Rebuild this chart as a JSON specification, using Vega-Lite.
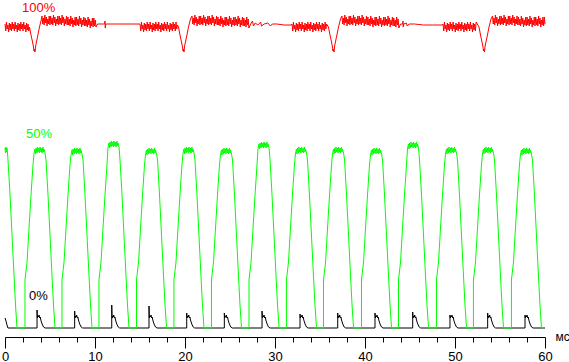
{
"$schema":"https://vega.github.io/schema/vega-lite/v6.json",
"width":540,"height":337,
"autosize":{"type":"none"},
"padding":{"left":5,"top":0,"right":24,"bottom":25},
"background":"#ffffff",
"config":{"view":{"stroke":null}},
"datasets":{
"k":[{"x":0,"y":19},{"x":0.11,"y":16},{"x":0.22,"y":12},{"x":0.33,"y":9},
{"x":3.56,"y":9},{"x":3.56,"y":27},{"x":3.6,"y":19},{"x":3.67,"y":21},{"x":3.74,"y":20},{"x":3.78,"y":22},{"x":3.85,"y":19},{"x":3.92,"y":20},{"x":3.98,"y":17},{"x":4.12,"y":13},{"x":4.28,"y":10},{"x":4.45,"y":9},
{"x":7.74,"y":9},{"x":7.74,"y":26},{"x":7.78,"y":19},{"x":7.85,"y":21},{"x":7.92,"y":20},{"x":7.96,"y":22},{"x":8.03,"y":19},{"x":8.1,"y":20},{"x":8.16,"y":17},{"x":8.3,"y":13},{"x":8.46,"y":10},{"x":8.63,"y":9},
{"x":11.86,"y":9},{"x":11.86,"y":32},{"x":11.9,"y":19},{"x":11.97,"y":21},{"x":12.04,"y":20},{"x":12.08,"y":22},{"x":12.15,"y":19},{"x":12.22,"y":20},{"x":12.28,"y":17},{"x":12.42,"y":13},{"x":12.58,"y":10},{"x":12.75,"y":9},
{"x":16.0,"y":9},{"x":16.0,"y":31},{"x":16.04,"y":19},{"x":16.11,"y":21},{"x":16.18,"y":20},{"x":16.22,"y":22},{"x":16.29,"y":19},{"x":16.36,"y":20},{"x":16.42,"y":17},{"x":16.56,"y":13},{"x":16.72,"y":10},{"x":16.89,"y":9},
{"x":20.19,"y":9},{"x":20.19,"y":24},{"x":20.23,"y":19},{"x":20.3,"y":21},{"x":20.37,"y":20},{"x":20.41,"y":22},{"x":20.48,"y":19},{"x":20.55,"y":20},{"x":20.61,"y":17},{"x":20.75,"y":13},{"x":20.91,"y":10},{"x":21.08,"y":9},
{"x":24.37,"y":9},{"x":24.37,"y":24},{"x":24.41,"y":19},{"x":24.48,"y":21},{"x":24.55,"y":20},{"x":24.59,"y":22},{"x":24.66,"y":19},{"x":24.73,"y":20},{"x":24.79,"y":17},{"x":24.93,"y":13},{"x":25.09,"y":10},{"x":25.26,"y":9},
{"x":28.56,"y":9},{"x":28.56,"y":26},{"x":28.6,"y":19},{"x":28.67,"y":21},{"x":28.74,"y":20},{"x":28.78,"y":22},{"x":28.85,"y":19},{"x":28.92,"y":20},{"x":28.98,"y":17},{"x":29.12,"y":13},{"x":29.28,"y":10},{"x":29.45,"y":9},
{"x":32.78,"y":9},{"x":32.78,"y":23},{"x":32.82,"y":19},{"x":32.89,"y":21},{"x":32.96,"y":20},{"x":33.0,"y":22},{"x":33.07,"y":19},{"x":33.14,"y":20},{"x":33.2,"y":17},{"x":33.34,"y":13},{"x":33.5,"y":10},{"x":33.67,"y":9},
{"x":36.97,"y":9},{"x":36.97,"y":24},{"x":37.01,"y":19},{"x":37.08,"y":21},{"x":37.15,"y":20},{"x":37.19,"y":22},{"x":37.26,"y":19},{"x":37.33,"y":20},{"x":37.39,"y":17},{"x":37.53,"y":13},{"x":37.69,"y":10},{"x":37.86,"y":9},
{"x":41.11,"y":9},{"x":41.11,"y":24},{"x":41.15,"y":19},{"x":41.22,"y":21},{"x":41.29,"y":20},{"x":41.33,"y":22},{"x":41.4,"y":19},{"x":41.47,"y":20},{"x":41.53,"y":17},{"x":41.67,"y":13},{"x":41.83,"y":10},{"x":42.0,"y":9},
{"x":45.3,"y":9},{"x":45.3,"y":25},{"x":45.34,"y":19},{"x":45.41,"y":21},{"x":45.48,"y":20},{"x":45.52,"y":22},{"x":45.59,"y":19},{"x":45.66,"y":20},{"x":45.72,"y":17},{"x":45.86,"y":13},{"x":46.02,"y":10},{"x":46.19,"y":9},
{"x":49.44,"y":9},{"x":49.44,"y":22},{"x":49.48,"y":19},{"x":49.55,"y":21},{"x":49.62,"y":20},{"x":49.66,"y":22},{"x":49.73,"y":19},{"x":49.8,"y":20},{"x":49.86,"y":17},{"x":50.0,"y":13},{"x":50.16,"y":10},{"x":50.33,"y":9},
{"x":53.63,"y":9},{"x":53.63,"y":24},{"x":53.67,"y":19},{"x":53.74,"y":21},{"x":53.81,"y":20},{"x":53.85,"y":22},{"x":53.92,"y":19},{"x":53.99,"y":20},{"x":54.05,"y":17},{"x":54.19,"y":13},{"x":54.35,"y":10},{"x":54.52,"y":9},
{"x":57.78,"y":9},{"x":57.78,"y":22},{"x":57.82,"y":19},{"x":57.89,"y":21},{"x":57.96,"y":20},{"x":58.0,"y":22},{"x":58.07,"y":19},{"x":58.14,"y":20},{"x":58.2,"y":17},{"x":58.34,"y":13},{"x":58.5,"y":10},{"x":58.67,"y":9},
{"x":60,"y":9}],
"g":[{"x":0,"y":189},{"x":0.06,"y":184},{"x":0.11,"y":190},{"x":0.17,"y":185},{"x":0.22,"y":189},{"x":0.28,"y":184},{"x":0.33,"y":177},{"x":0.56,"y":142},{"x":0.78,"y":102},{"x":1.0,"y":62},{"x":1.17,"y":32},{"x":1.33,"y":9},
{"x":2.22,"y":9},{"x":2.22,"y":57},{"x":2.45,"y":75},{"x":2.67,"y":109},{"x":2.89,"y":142},{"x":3.11,"y":172},{"x":3.22,"y":183},
{"x":3.33,"y":188},{"x":3.39,"y":183},{"x":3.45,"y":189},{"x":3.56,"y":184},{"x":3.61,"y":190},{"x":3.67,"y":185},{"x":3.78,"y":189},{"x":3.83,"y":184},{"x":3.89,"y":190},{"x":4.0,"y":185},{"x":4.06,"y":189},{"x":4.11,"y":184},{"x":4.22,"y":190},{"x":4.28,"y":185},{"x":4.33,"y":188},{"x":4.45,"y":184},
{"x":4.56,"y":177},{"x":4.78,"y":142},{"x":5.0,"y":102},{"x":5.22,"y":62},{"x":5.39,"y":32},{"x":5.56,"y":9},
{"x":6.33,"y":9},{"x":6.33,"y":57},{"x":6.56,"y":75},{"x":6.78,"y":109},{"x":7.0,"y":142},{"x":7.22,"y":172},{"x":7.33,"y":182},
{"x":7.44,"y":187},{"x":7.5,"y":182},{"x":7.56,"y":188},{"x":7.67,"y":183},{"x":7.72,"y":189},{"x":7.78,"y":184},{"x":7.89,"y":188},{"x":7.94,"y":183},{"x":8.0,"y":189},{"x":8.11,"y":184},{"x":8.17,"y":188},{"x":8.22,"y":183},{"x":8.33,"y":189},{"x":8.39,"y":184},{"x":8.44,"y":187},{"x":8.56,"y":183},
{"x":8.67,"y":177},{"x":8.89,"y":142},{"x":9.11,"y":102},{"x":9.33,"y":62},{"x":9.5,"y":32},{"x":9.67,"y":9},
{"x":10.44,"y":9},{"x":10.44,"y":57},{"x":10.67,"y":75},{"x":10.89,"y":109},{"x":11.11,"y":142},{"x":11.33,"y":172},{"x":11.44,"y":189},
{"x":11.55,"y":194},{"x":11.61,"y":189},{"x":11.67,"y":195},{"x":11.78,"y":190},{"x":11.83,"y":196},{"x":11.89,"y":191},{"x":12.0,"y":195},{"x":12.05,"y":190},{"x":12.11,"y":196},{"x":12.22,"y":191},{"x":12.28,"y":195},{"x":12.33,"y":190},{"x":12.44,"y":196},{"x":12.5,"y":191},{"x":12.55,"y":194},{"x":12.67,"y":190},
{"x":12.78,"y":177},{"x":13.0,"y":142},{"x":13.22,"y":102},{"x":13.44,"y":62},{"x":13.61,"y":32},{"x":13.78,"y":9},
{"x":14.61,"y":9},{"x":14.61,"y":57},{"x":14.84,"y":75},{"x":15.06,"y":109},{"x":15.28,"y":142},{"x":15.5,"y":172},{"x":15.61,"y":182},
{"x":15.72,"y":187},{"x":15.78,"y":182},{"x":15.84,"y":188},{"x":15.95,"y":183},{"x":16.0,"y":189},{"x":16.06,"y":184},{"x":16.17,"y":188},{"x":16.22,"y":183},{"x":16.28,"y":189},{"x":16.39,"y":184},{"x":16.45,"y":188},{"x":16.5,"y":183},{"x":16.61,"y":189},{"x":16.67,"y":184},{"x":16.72,"y":187},{"x":16.84,"y":183},
{"x":16.95,"y":177},{"x":17.17,"y":142},{"x":17.39,"y":102},{"x":17.61,"y":62},{"x":17.78,"y":32},{"x":17.95,"y":9},
{"x":18.77,"y":9},{"x":18.77,"y":57},{"x":19.0,"y":75},{"x":19.22,"y":109},{"x":19.44,"y":142},{"x":19.66,"y":172},{"x":19.77,"y":183},
{"x":19.88,"y":188},{"x":19.94,"y":183},{"x":20.0,"y":189},{"x":20.11,"y":184},{"x":20.16,"y":190},{"x":20.22,"y":185},{"x":20.33,"y":189},{"x":20.38,"y":184},{"x":20.44,"y":190},{"x":20.55,"y":185},{"x":20.61,"y":189},{"x":20.66,"y":184},{"x":20.77,"y":190},{"x":20.83,"y":185},{"x":20.88,"y":188},{"x":21.0,"y":184},
{"x":21.11,"y":177},{"x":21.33,"y":142},{"x":21.55,"y":102},{"x":21.77,"y":62},{"x":21.94,"y":32},{"x":22.11,"y":9},
{"x":22.94,"y":9},{"x":22.94,"y":57},{"x":23.17,"y":75},{"x":23.39,"y":109},{"x":23.61,"y":142},{"x":23.83,"y":172},{"x":23.94,"y":182},
{"x":24.05,"y":187},{"x":24.11,"y":182},{"x":24.17,"y":188},{"x":24.28,"y":183},{"x":24.33,"y":189},{"x":24.39,"y":184},{"x":24.5,"y":188},{"x":24.55,"y":183},{"x":24.61,"y":189},{"x":24.72,"y":184},{"x":24.78,"y":188},{"x":24.83,"y":183},{"x":24.94,"y":189},{"x":25.0,"y":184},{"x":25.05,"y":187},{"x":25.17,"y":183},
{"x":25.28,"y":177},{"x":25.5,"y":142},{"x":25.72,"y":102},{"x":25.94,"y":62},{"x":26.11,"y":32},{"x":26.28,"y":9},
{"x":27.11,"y":9},{"x":27.11,"y":57},{"x":27.34,"y":75},{"x":27.56,"y":109},{"x":27.78,"y":142},{"x":28.0,"y":172},{"x":28.11,"y":188},
{"x":28.22,"y":193},{"x":28.28,"y":188},{"x":28.34,"y":194},{"x":28.45,"y":189},{"x":28.5,"y":195},{"x":28.56,"y":190},{"x":28.67,"y":194},{"x":28.72,"y":189},{"x":28.78,"y":195},{"x":28.89,"y":190},{"x":28.95,"y":194},{"x":29.0,"y":189},{"x":29.11,"y":195},{"x":29.17,"y":190},{"x":29.22,"y":193},{"x":29.34,"y":189},
{"x":29.45,"y":177},{"x":29.67,"y":142},{"x":29.89,"y":102},{"x":30.11,"y":62},{"x":30.28,"y":32},{"x":30.45,"y":9},
{"x":31.27,"y":9},{"x":31.27,"y":57},{"x":31.5,"y":75},{"x":31.72,"y":109},{"x":31.94,"y":142},{"x":32.16,"y":172},{"x":32.27,"y":183},
{"x":32.38,"y":188},{"x":32.44,"y":183},{"x":32.5,"y":189},{"x":32.61,"y":184},{"x":32.66,"y":190},{"x":32.72,"y":185},{"x":32.83,"y":189},{"x":32.88,"y":184},{"x":32.94,"y":190},{"x":33.05,"y":185},{"x":33.11,"y":189},{"x":33.16,"y":184},{"x":33.27,"y":190},{"x":33.33,"y":185},{"x":33.38,"y":188},{"x":33.5,"y":184},
{"x":33.61,"y":177},{"x":33.83,"y":142},{"x":34.05,"y":102},{"x":34.27,"y":62},{"x":34.44,"y":32},{"x":34.61,"y":9},
{"x":35.39,"y":9},{"x":35.39,"y":57},{"x":35.62,"y":75},{"x":35.84,"y":109},{"x":36.06,"y":142},{"x":36.28,"y":172},{"x":36.39,"y":183},
{"x":36.5,"y":188},{"x":36.56,"y":183},{"x":36.62,"y":189},{"x":36.73,"y":184},{"x":36.78,"y":190},{"x":36.84,"y":185},{"x":36.95,"y":189},{"x":37.0,"y":184},{"x":37.06,"y":190},{"x":37.17,"y":185},{"x":37.23,"y":189},{"x":37.28,"y":184},{"x":37.39,"y":190},{"x":37.45,"y":185},{"x":37.5,"y":188},{"x":37.62,"y":184},
{"x":37.73,"y":177},{"x":37.95,"y":142},{"x":38.17,"y":102},{"x":38.39,"y":62},{"x":38.56,"y":32},{"x":38.73,"y":9},
{"x":39.61,"y":9},{"x":39.61,"y":57},{"x":39.84,"y":75},{"x":40.06,"y":109},{"x":40.28,"y":142},{"x":40.5,"y":172},{"x":40.61,"y":182},
{"x":40.72,"y":187},{"x":40.78,"y":182},{"x":40.84,"y":188},{"x":40.95,"y":183},{"x":41.0,"y":189},{"x":41.06,"y":184},{"x":41.17,"y":188},{"x":41.22,"y":183},{"x":41.28,"y":189},{"x":41.39,"y":184},{"x":41.45,"y":188},{"x":41.5,"y":183},{"x":41.61,"y":189},{"x":41.67,"y":184},{"x":41.72,"y":187},{"x":41.84,"y":183},
{"x":41.95,"y":177},{"x":42.17,"y":142},{"x":42.39,"y":102},{"x":42.61,"y":62},{"x":42.78,"y":32},{"x":42.95,"y":9},
{"x":43.72,"y":9},{"x":43.72,"y":57},{"x":43.95,"y":75},{"x":44.17,"y":109},{"x":44.39,"y":142},{"x":44.61,"y":172},{"x":44.72,"y":188},
{"x":44.83,"y":193},{"x":44.89,"y":188},{"x":44.95,"y":194},{"x":45.06,"y":189},{"x":45.11,"y":195},{"x":45.17,"y":190},{"x":45.28,"y":194},{"x":45.33,"y":189},{"x":45.39,"y":195},{"x":45.5,"y":190},{"x":45.56,"y":194},{"x":45.61,"y":189},{"x":45.72,"y":195},{"x":45.78,"y":190},{"x":45.83,"y":193},{"x":45.95,"y":189},
{"x":46.06,"y":177},{"x":46.28,"y":142},{"x":46.5,"y":102},{"x":46.72,"y":62},{"x":46.89,"y":32},{"x":47.06,"y":9},
{"x":47.94,"y":9},{"x":47.94,"y":57},{"x":48.17,"y":75},{"x":48.39,"y":109},{"x":48.61,"y":142},{"x":48.83,"y":172},{"x":48.94,"y":183},
{"x":49.05,"y":188},{"x":49.11,"y":183},{"x":49.17,"y":189},{"x":49.28,"y":184},{"x":49.33,"y":190},{"x":49.39,"y":185},{"x":49.5,"y":189},{"x":49.55,"y":184},{"x":49.61,"y":190},{"x":49.72,"y":185},{"x":49.78,"y":189},{"x":49.83,"y":184},{"x":49.94,"y":190},{"x":50.0,"y":185},{"x":50.05,"y":188},{"x":50.17,"y":184},
{"x":50.28,"y":177},{"x":50.5,"y":142},{"x":50.72,"y":102},{"x":50.94,"y":62},{"x":51.11,"y":32},{"x":51.28,"y":9},
{"x":52.05,"y":9},{"x":52.05,"y":57},{"x":52.28,"y":75},{"x":52.5,"y":109},{"x":52.72,"y":142},{"x":52.94,"y":172},{"x":53.05,"y":183},
{"x":53.16,"y":188},{"x":53.22,"y":183},{"x":53.28,"y":189},{"x":53.39,"y":184},{"x":53.44,"y":190},{"x":53.5,"y":185},{"x":53.61,"y":189},{"x":53.66,"y":184},{"x":53.72,"y":190},{"x":53.83,"y":185},{"x":53.89,"y":189},{"x":53.94,"y":184},{"x":54.05,"y":190},{"x":54.11,"y":185},{"x":54.16,"y":188},{"x":54.28,"y":184},
{"x":54.39,"y":177},{"x":54.61,"y":142},{"x":54.83,"y":102},{"x":55.05,"y":62},{"x":55.22,"y":32},{"x":55.39,"y":9},
{"x":56.27,"y":9},{"x":56.27,"y":57},{"x":56.5,"y":75},{"x":56.72,"y":109},{"x":56.94,"y":142},{"x":57.16,"y":172},{"x":57.27,"y":182},
{"x":57.38,"y":187},{"x":57.44,"y":182},{"x":57.5,"y":188},{"x":57.61,"y":183},{"x":57.66,"y":189},{"x":57.72,"y":184},{"x":57.83,"y":188},{"x":57.88,"y":183},{"x":57.94,"y":189},{"x":58.05,"y":184},{"x":58.11,"y":188},{"x":58.16,"y":183},{"x":58.27,"y":189},{"x":58.33,"y":184},{"x":58.38,"y":187},{"x":58.5,"y":183},
{"x":58.61,"y":177},{"x":58.83,"y":142},{"x":59.05,"y":102},{"x":59.27,"y":62},{"x":59.44,"y":32},{"x":59.61,"y":9},{"x":59.9,"y":9}],
"r":[
{"x":0,"y":313},{"x":0.08,"y":306},{"x":0.16,"y":315},{"x":0.24,"y":308},{"x":0.32,"y":312},{"x":0.40,"y":305},{"x":0.48,"y":314},{"x":0.56,"y":307},{"x":0.64,"y":313},{"x":0.72,"y":306},{"x":0.80,"y":315},{"x":0.88,"y":308},
{"x":0.96,"y":313},{"x":1.04,"y":306},{"x":1.12,"y":315},{"x":1.20,"y":308},{"x":1.28,"y":312},{"x":1.36,"y":305},{"x":1.44,"y":314},{"x":1.52,"y":307},{"x":1.60,"y":313},{"x":1.68,"y":306},{"x":1.76,"y":315},{"x":1.84,"y":308},
{"x":1.92,"y":313},{"x":2.00,"y":306},{"x":2.08,"y":315},{"x":2.16,"y":308},{"x":2.24,"y":312},{"x":2.32,"y":305},{"x":2.40,"y":314},{"x":2.48,"y":307},{"x":2.56,"y":313},{"x":2.64,"y":306},
{"x":2.72,"y":310},{"x":2.89,"y":302},{"x":3.06,"y":295},{"x":3.17,"y":290},{"x":3.22,"y":286},{"x":3.28,"y":288},{"x":3.33,"y":285},{"x":3.39,"y":290},{"x":3.45,"y":293},{"x":3.61,"y":300},{"x":3.83,"y":310},{"x":4.0,"y":316},
{"x":4.11,"y":321},{"x":4.19,"y":313},{"x":4.27,"y":319},{"x":4.35,"y":312},{"x":4.43,"y":322},{"x":4.51,"y":314},{"x":4.59,"y":320},{"x":4.67,"y":311},{"x":4.75,"y":318},{"x":4.83,"y":313},{"x":4.91,"y":321},{"x":4.99,"y":312},
{"x":5.07,"y":321},{"x":5.15,"y":313},{"x":5.23,"y":319},{"x":5.31,"y":312},{"x":5.39,"y":322},{"x":5.47,"y":314},{"x":5.55,"y":320},{"x":5.63,"y":311},{"x":5.71,"y":318},{"x":5.79,"y":313},{"x":5.87,"y":321},{"x":5.95,"y":312},
{"x":6.03,"y":321},{"x":6.11,"y":313},{"x":6.19,"y":319},{"x":6.27,"y":312},{"x":6.35,"y":322},{"x":6.43,"y":314},{"x":6.51,"y":320},{"x":6.59,"y":311},{"x":6.67,"y":318},{"x":6.75,"y":313},{"x":6.83,"y":321},{"x":6.91,"y":312},
{"x":6.99,"y":320},{"x":7.07,"y":312},{"x":7.15,"y":318},{"x":7.23,"y":311},{"x":7.31,"y":321},{"x":7.39,"y":313},{"x":7.47,"y":319},{"x":7.55,"y":310},{"x":7.63,"y":317},{"x":7.71,"y":312},{"x":7.79,"y":320},{"x":7.87,"y":311},
{"x":7.95,"y":320},{"x":8.03,"y":312},{"x":8.11,"y":318},{"x":8.19,"y":311},{"x":8.27,"y":321},{"x":8.35,"y":313},{"x":8.43,"y":319},{"x":8.51,"y":310},{"x":8.59,"y":317},{"x":8.67,"y":312},{"x":8.75,"y":320},{"x":8.83,"y":311},
{"x":8.91,"y":319},{"x":8.99,"y":311},{"x":9.07,"y":317},{"x":9.15,"y":310},{"x":9.23,"y":320},{"x":9.31,"y":312},{"x":9.39,"y":318},{"x":9.47,"y":309},{"x":9.55,"y":316},{"x":9.63,"y":311},{"x":9.71,"y":319},{"x":9.79,"y":310},
{"x":9.87,"y":319},{"x":9.95,"y":311},{"x":10.03,"y":317},{"x":10.11,"y":310},
{"x":10.28,"y":313},{"x":11.06,"y":313},{"x":11.11,"y":316},{"x":11.14,"y":309},{"x":11.2,"y":313},{"x":12.5,"y":313},{"x":13.9,"y":313},{"x":14.95,"y":313},
{"x":15.00,"y":313},{"x":15.08,"y":306},{"x":15.16,"y":315},{"x":15.24,"y":308},{"x":15.32,"y":312},{"x":15.40,"y":305},{"x":15.48,"y":314},{"x":15.56,"y":307},{"x":15.64,"y":313},{"x":15.72,"y":306},{"x":15.80,"y":315},{"x":15.88,"y":308},
{"x":15.96,"y":313},{"x":16.04,"y":306},{"x":16.12,"y":315},{"x":16.20,"y":308},{"x":16.28,"y":312},{"x":16.36,"y":305},{"x":16.44,"y":314},{"x":16.52,"y":307},{"x":16.60,"y":313},{"x":16.68,"y":306},{"x":16.76,"y":315},{"x":16.84,"y":308},
{"x":16.92,"y":313},{"x":17.00,"y":306},{"x":17.08,"y":315},{"x":17.16,"y":308},{"x":17.24,"y":312},{"x":17.32,"y":305},{"x":17.40,"y":314},{"x":17.48,"y":307},{"x":17.56,"y":313},{"x":17.64,"y":306},{"x":17.72,"y":315},{"x":17.80,"y":308},
{"x":17.88,"y":313},{"x":17.96,"y":306},{"x":18.04,"y":315},{"x":18.12,"y":308},{"x":18.20,"y":312},{"x":18.28,"y":305},{"x":18.36,"y":314},{"x":18.44,"y":307},{"x":18.52,"y":313},{"x":18.60,"y":306},{"x":18.68,"y":315},{"x":18.76,"y":308},
{"x":18.84,"y":313},{"x":18.92,"y":306},{"x":19.00,"y":315},{"x":19.08,"y":308},{"x":19.16,"y":312},
{"x":19.28,"y":310},{"x":19.44,"y":302},{"x":19.61,"y":295},{"x":19.72,"y":290},{"x":19.78,"y":286},{"x":19.83,"y":288},{"x":19.89,"y":285},{"x":19.94,"y":290},{"x":20.0,"y":293},{"x":20.17,"y":300},{"x":20.39,"y":310},{"x":20.61,"y":318},
{"x":20.78,"y":321},{"x":20.86,"y":313},{"x":20.94,"y":319},{"x":21.02,"y":312},{"x":21.10,"y":322},{"x":21.18,"y":314},{"x":21.26,"y":320},{"x":21.34,"y":311},{"x":21.42,"y":318},{"x":21.50,"y":313},{"x":21.58,"y":321},{"x":21.66,"y":312},
{"x":21.74,"y":321},{"x":21.82,"y":313},{"x":21.90,"y":319},{"x":21.98,"y":312},{"x":22.06,"y":322},{"x":22.14,"y":314},{"x":22.22,"y":320},{"x":22.30,"y":311},{"x":22.38,"y":318},{"x":22.46,"y":313},{"x":22.54,"y":321},{"x":22.62,"y":312},
{"x":22.70,"y":321},{"x":22.78,"y":313},{"x":22.86,"y":319},{"x":22.94,"y":312},{"x":23.02,"y":322},{"x":23.10,"y":314},{"x":23.18,"y":320},{"x":23.26,"y":311},{"x":23.34,"y":318},{"x":23.42,"y":313},{"x":23.50,"y":321},{"x":23.58,"y":312},
{"x":23.66,"y":320},{"x":23.74,"y":312},{"x":23.82,"y":318},{"x":23.90,"y":311},{"x":23.98,"y":321},{"x":24.06,"y":313},{"x":24.14,"y":319},{"x":24.22,"y":310},{"x":24.30,"y":317},{"x":24.38,"y":312},{"x":24.46,"y":320},{"x":24.54,"y":311},
{"x":24.62,"y":320},{"x":24.70,"y":312},{"x":24.78,"y":318},{"x":24.86,"y":311},{"x":24.94,"y":321},{"x":25.02,"y":313},{"x":25.10,"y":319},{"x":25.18,"y":310},{"x":25.26,"y":317},{"x":25.34,"y":312},{"x":25.42,"y":320},{"x":25.50,"y":311},
{"x":25.58,"y":320},{"x":25.66,"y":312},{"x":25.74,"y":318},{"x":25.82,"y":311},{"x":25.90,"y":321},{"x":25.98,"y":313},{"x":26.06,"y":319},{"x":26.14,"y":310},{"x":26.22,"y":317},{"x":26.30,"y":312},{"x":26.38,"y":320},{"x":26.46,"y":311},
{"x":26.54,"y":319},{"x":26.62,"y":311},{"x":26.70,"y":317},{"x":26.78,"y":310},{"x":26.86,"y":320},{"x":26.94,"y":312},{"x":27.02,"y":318},{"x":27.10,"y":309},
{"x":27.3,"y":313},{"x":27.5,"y":316},{"x":27.6,"y":311},{"x":27.8,"y":314},{"x":28.1,"y":312},{"x":28.4,"y":315},{"x":28.5,"y":311},{"x":28.8,"y":313},{"x":29.2,"y":314},{"x":29.5,"y":311},{"x":29.7,"y":313},{"x":30.2,"y":313},{"x":31.0,"y":312},{"x":31.8,"y":312},
{"x":31.89,"y":313},{"x":31.97,"y":306},{"x":32.05,"y":315},{"x":32.13,"y":308},{"x":32.21,"y":312},{"x":32.29,"y":305},{"x":32.37,"y":314},{"x":32.45,"y":307},{"x":32.53,"y":313},{"x":32.61,"y":306},{"x":32.69,"y":315},{"x":32.77,"y":308},
{"x":32.85,"y":313},{"x":32.93,"y":306},{"x":33.01,"y":315},{"x":33.09,"y":308},{"x":33.17,"y":312},{"x":33.25,"y":305},{"x":33.33,"y":314},{"x":33.41,"y":307},{"x":33.49,"y":313},{"x":33.57,"y":306},{"x":33.65,"y":315},{"x":33.73,"y":308},
{"x":33.81,"y":313},{"x":33.89,"y":306},{"x":33.97,"y":315},{"x":34.05,"y":308},{"x":34.13,"y":312},{"x":34.21,"y":305},{"x":34.29,"y":314},{"x":34.37,"y":307},{"x":34.45,"y":313},{"x":34.53,"y":306},{"x":34.61,"y":315},{"x":34.69,"y":308},
{"x":34.77,"y":313},{"x":34.85,"y":306},{"x":34.93,"y":315},{"x":35.01,"y":308},{"x":35.09,"y":312},{"x":35.17,"y":305},{"x":35.25,"y":314},{"x":35.33,"y":307},{"x":35.41,"y":313},{"x":35.49,"y":306},{"x":35.57,"y":315},{"x":35.65,"y":308},
{"x":35.73,"y":313},
{"x":35.94,"y":310},{"x":36.11,"y":302},{"x":36.28,"y":295},{"x":36.39,"y":290},{"x":36.44,"y":286},{"x":36.5,"y":288},{"x":36.56,"y":285},{"x":36.61,"y":290},{"x":36.67,"y":293},{"x":36.83,"y":300},{"x":37.06,"y":310},{"x":37.28,"y":318},
{"x":37.44,"y":321},{"x":37.52,"y":313},{"x":37.60,"y":319},{"x":37.68,"y":312},{"x":37.76,"y":322},{"x":37.84,"y":314},{"x":37.92,"y":320},{"x":38.00,"y":311},{"x":38.08,"y":318},{"x":38.16,"y":313},{"x":38.24,"y":321},{"x":38.32,"y":312},
{"x":38.40,"y":321},{"x":38.48,"y":313},{"x":38.56,"y":319},{"x":38.64,"y":312},{"x":38.72,"y":322},{"x":38.80,"y":314},{"x":38.88,"y":320},{"x":38.96,"y":311},{"x":39.04,"y":318},{"x":39.12,"y":313},{"x":39.20,"y":321},{"x":39.28,"y":312},
{"x":39.36,"y":321},{"x":39.44,"y":313},{"x":39.52,"y":319},{"x":39.60,"y":312},{"x":39.68,"y":322},{"x":39.76,"y":314},{"x":39.84,"y":320},{"x":39.92,"y":311},{"x":40.00,"y":318},{"x":40.08,"y":313},{"x":40.16,"y":321},{"x":40.24,"y":312},
{"x":40.32,"y":320},{"x":40.40,"y":312},{"x":40.48,"y":318},{"x":40.56,"y":311},{"x":40.64,"y":321},{"x":40.72,"y":313},{"x":40.80,"y":319},{"x":40.88,"y":310},{"x":40.96,"y":317},{"x":41.04,"y":312},{"x":41.12,"y":320},{"x":41.20,"y":311},
{"x":41.28,"y":320},{"x":41.36,"y":312},{"x":41.44,"y":318},{"x":41.52,"y":311},{"x":41.60,"y":321},{"x":41.68,"y":313},{"x":41.76,"y":319},{"x":41.84,"y":310},{"x":41.92,"y":317},{"x":42.00,"y":312},{"x":42.08,"y":320},{"x":42.16,"y":311},
{"x":42.24,"y":320},{"x":42.32,"y":312},{"x":42.40,"y":318},{"x":42.48,"y":311},{"x":42.56,"y":321},{"x":42.64,"y":313},{"x":42.72,"y":319},{"x":42.80,"y":310},{"x":42.88,"y":317},{"x":42.96,"y":312},{"x":43.04,"y":320},{"x":43.12,"y":311},
{"x":43.20,"y":319},{"x":43.28,"y":311},{"x":43.36,"y":317},{"x":43.44,"y":310},{"x":43.52,"y":320},{"x":43.60,"y":312},{"x":43.68,"y":318},{"x":43.76,"y":309},
{"x":43.95,"y":313},{"x":44.2,"y":313},{"x":44.22,"y":316},{"x":44.25,"y":310},{"x":44.3,"y":313},{"x":44.6,"y":314},{"x":44.7,"y":311},{"x":44.9,"y":313},{"x":45.5,"y":313},{"x":46.5,"y":312},{"x":47.5,"y":312},{"x":48.6,"y":312},
{"x":48.67,"y":313},{"x":48.75,"y":306},{"x":48.83,"y":315},{"x":48.91,"y":308},{"x":48.99,"y":312},{"x":49.07,"y":305},{"x":49.15,"y":314},{"x":49.23,"y":307},{"x":49.31,"y":313},{"x":49.39,"y":306},{"x":49.47,"y":315},{"x":49.55,"y":308},
{"x":49.63,"y":313},{"x":49.71,"y":306},{"x":49.79,"y":315},{"x":49.87,"y":308},{"x":49.95,"y":312},{"x":50.03,"y":305},{"x":50.11,"y":314},{"x":50.19,"y":307},{"x":50.27,"y":313},{"x":50.35,"y":306},{"x":50.43,"y":315},{"x":50.51,"y":308},
{"x":50.59,"y":313},{"x":50.67,"y":306},{"x":50.75,"y":315},{"x":50.83,"y":308},{"x":50.91,"y":312},{"x":50.99,"y":305},{"x":51.07,"y":314},{"x":51.15,"y":307},{"x":51.23,"y":313},{"x":51.31,"y":306},{"x":51.39,"y":315},{"x":51.47,"y":308},
{"x":51.55,"y":313},{"x":51.63,"y":306},{"x":51.71,"y":315},{"x":51.79,"y":308},{"x":51.87,"y":312},{"x":51.95,"y":305},{"x":52.03,"y":314},{"x":52.11,"y":307},{"x":52.19,"y":313},{"x":52.27,"y":306},{"x":52.35,"y":315},
{"x":52.67,"y":310},{"x":52.83,"y":302},{"x":53.0,"y":295},{"x":53.11,"y":290},{"x":53.17,"y":286},{"x":53.22,"y":288},{"x":53.28,"y":285},{"x":53.33,"y":290},{"x":53.39,"y":293},{"x":53.56,"y":300},{"x":53.78,"y":310},{"x":54.0,"y":318},
{"x":54.17,"y":321},{"x":54.25,"y":313},{"x":54.33,"y":319},{"x":54.41,"y":312},{"x":54.49,"y":322},{"x":54.57,"y":314},{"x":54.65,"y":320},{"x":54.73,"y":311},{"x":54.81,"y":318},{"x":54.89,"y":313},{"x":54.97,"y":321},{"x":55.05,"y":312},
{"x":55.13,"y":321},{"x":55.21,"y":313},{"x":55.29,"y":319},{"x":55.37,"y":312},{"x":55.45,"y":322},{"x":55.53,"y":314},{"x":55.61,"y":320},{"x":55.69,"y":311},{"x":55.77,"y":318},{"x":55.85,"y":313},{"x":55.93,"y":321},{"x":56.01,"y":312},
{"x":56.09,"y":321},{"x":56.17,"y":313},{"x":56.25,"y":319},{"x":56.33,"y":312},{"x":56.41,"y":322},{"x":56.49,"y":314},{"x":56.57,"y":320},{"x":56.65,"y":311},{"x":56.73,"y":318},{"x":56.81,"y":313},{"x":56.89,"y":321},{"x":56.97,"y":312},
{"x":57.05,"y":320},{"x":57.13,"y":312},{"x":57.21,"y":318},{"x":57.29,"y":311},{"x":57.37,"y":321},{"x":57.45,"y":313},{"x":57.53,"y":319},{"x":57.61,"y":310},{"x":57.69,"y":317},{"x":57.77,"y":312},{"x":57.85,"y":320},{"x":57.93,"y":311},
{"x":58.01,"y":320},{"x":58.09,"y":312},{"x":58.17,"y":318},{"x":58.25,"y":311},{"x":58.33,"y":321},{"x":58.41,"y":313},{"x":58.49,"y":319},{"x":58.57,"y":310},{"x":58.65,"y":317},{"x":58.73,"y":312},{"x":58.81,"y":320},{"x":58.89,"y":311},
{"x":58.97,"y":320},{"x":59.05,"y":312},{"x":59.13,"y":318},{"x":59.21,"y":311},{"x":59.29,"y":321},{"x":59.37,"y":313},{"x":59.45,"y":319},{"x":59.53,"y":310},{"x":59.61,"y":317},{"x":59.69,"y":312},{"x":59.77,"y":320},{"x":59.85,"y":311},
{"x":59.93,"y":320},{"x":60.0,"y":313}],
"lab":[{"x":1.89,"y":325,"t":"100%"},{"x":2.33,"y":199,"t":"50%"},{"x":2.67,"y":37,"t":"0%"}]
},
"encoding":{
"x":{"field":"x","type":"quantitative","scale":{"domain":[0,60],"nice":false,"zero":false},
"axis":{"values":[0,2,4,6,8,10,12,14,16,18,20,22,24,26,28,30,32,34,36,38,40,42,44,46,48,50,52,54,56,58,60],
"labelExpr":"datum.value % 10 === 0 ? datum.label : ''",
"tickSize":{"condition":{"test":"datum.value % 10 === 0","value":11},"value":5},
"tickColor":"#000000","tickWidth":1,"domainColor":"#000000","domainWidth":1,"grid":false,
"labelFont":"Liberation Sans","labelFontSize":13,"labelColor":"#000000","labelPadding":2,"labelFlush":false,"labelOverlap":false,"labelBaseline":"top",
"title":"мс","titleFont":"Liberation Sans","titleFontSize":12,"titleFontWeight":"normal","titleColor":"#000000",
"titleX":550,"titleY":3,"titleAlign":"left","titleBaseline":"alphabetic","titleAngle":0}},
"y":{"field":"y","type":"quantitative","scale":{"domain":[0,337],"nice":false,"zero":false},"axis":null}
},
"layer":[
{"data":{"name":"k"},"mark":{"type":"line","color":"#000000","strokeWidth":1}},
{"data":{"name":"g"},"mark":{"type":"line","color":"#00ff00","strokeWidth":1}},
{"data":{"name":"r"},"mark":{"type":"line","color":"#ff0000","strokeWidth":1}},
{"data":{"name":"lab"},"mark":{"type":"text","align":"left","baseline":"alphabetic","font":"Liberation Sans","fontSize":13},
"encoding":{"text":{"field":"t"},"color":{"field":"t","type":"nominal","scale":{"domain":["100%","50%","0%"],"range":["#ff0000","#00ff00","#000000"]},"legend":null}}}
]
}
